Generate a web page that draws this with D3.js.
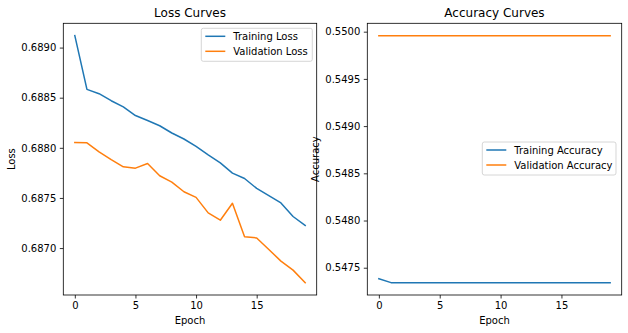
<!DOCTYPE html>
<html>
<head>
<meta charset="utf-8">
<script src="https://cdn.jsdelivr.net/npm/d3@7"></script>
<style>
  html, body { margin: 0; padding: 0; background: #fff; }
  svg { display: block; font-family: "DejaVu Sans", sans-serif; }
</style>
</head>
<body>
<svg id="chart" width="628" height="333"></svg>
<script>
// Training history, one value per epoch
const epochs = d3.range(20);
const trainLoss = [0.689119, 0.688583, 0.688540, 0.688470, 0.688408, 0.688322, 0.688272, 0.688220,
                   0.688148, 0.688088, 0.688015, 0.687930, 0.687850, 0.687748, 0.687694, 0.687595,
                   0.687523, 0.687450, 0.687315, 0.687226];
const valLoss = [0.688053, 0.688050, 0.687960, 0.687882, 0.687810, 0.687797, 0.687843, 0.687721,
                 0.687658, 0.687562, 0.687506, 0.687351, 0.687278, 0.687447, 0.687114, 0.687101,
                 0.686986, 0.686870, 0.686780, 0.686655];
const trainAcc = [0.547384, 0.547342, 0.547342, 0.547342, 0.547342, 0.547342, 0.547342, 0.547342,
                  0.547342, 0.547342, 0.547342, 0.547342, 0.547342, 0.547342, 0.547342, 0.547342,
                  0.547342, 0.547342, 0.547342, 0.547342];
const valAcc = [0.549958, 0.549958, 0.549958, 0.549958, 0.549958, 0.549958, 0.549958, 0.549958,
                0.549958, 0.549958, 0.549958, 0.549958, 0.549958, 0.549958, 0.549958, 0.549958,
                0.549958, 0.549958, 0.549958, 0.549958];

const epochTicks = [0, 5, 10, 15];
const lossTicks = [0.6870, 0.6875, 0.6880, 0.6885, 0.6890];
const accTicks = [0.5475, 0.5480, 0.5485, 0.5490, 0.5495, 0.5500];

const BLUE = "#1f77b4", ORANGE = "#ff7f0e";
const svg = d3.select("#chart");

function padded(arrs) {
  const lo = d3.min(arrs, a => d3.min(a)), hi = d3.max(arrs, a => d3.max(a));
  const m = (hi - lo) * 0.05;
  return [lo - m, hi + m];
}

function panel(opts) {
  const { left, right, top, bottom, title, ylabel, ylabelX, series, yTicks, legend } = opts;
  const x = d3.scaleLinear().domain([-0.95, 19.95]).range([left, right]);
  const y = d3.scaleLinear().domain(padded(series.map(s => s.values))).range([bottom, top]);
  const g = svg.append("g");

  const line = d3.line().x((d, i) => x(epochs[i])).y(d => y(d));
  series.forEach(s => {
    g.append("path").datum(s.values)
      .attr("d", line).attr("fill", "none")
      .attr("stroke", s.color).attr("stroke-width", 1.5)
      .attr("stroke-linecap", "square").attr("stroke-linejoin", "round");
  });

  const xa = g.append("g").attr("transform", `translate(0,${bottom})`)
    .call(d3.axisBottom(x).tickValues(epochTicks).tickSize(3.5).tickPadding(3.5).tickFormat(d3.format("d")));
  const ya = g.append("g").attr("transform", `translate(${left},0)`)
    .call(d3.axisLeft(y).tickValues(yTicks).tickSize(3.5).tickPadding(3.5).tickFormat(d3.format(".4f")));
  [xa, ya].forEach(a => {
    a.select(".domain").remove();
    a.selectAll(".tick line").attr("stroke", "#000").attr("stroke-width", 0.8);
    a.selectAll(".tick text").attr("font-size", 10).attr("fill", "#000")
      .attr("font-family", "DejaVu Sans, sans-serif");
  });

  g.append("rect").attr("x", left).attr("y", top)
    .attr("width", right - left).attr("height", bottom - top)
    .attr("fill", "none").attr("stroke", "#000").attr("stroke-width", 0.8);

  g.append("text").attr("x", (left + right) / 2).attr("y", top - 6)
    .attr("text-anchor", "middle").attr("font-size", 12).text(title);
  g.append("text").attr("x", (left + right) / 2).attr("y", bottom + 29)
    .attr("text-anchor", "middle").attr("font-size", 10).text("Epoch");
  g.append("text").attr("transform", `translate(${ylabelX},${(top + bottom) / 2}) rotate(-90)`)
    .attr("text-anchor", "middle").attr("dominant-baseline", "middle")
    .attr("font-size", 10).text(ylabel);

  // legend
  const lg = g.append("g").attr("transform", `translate(${legend.x},${legend.y})`);
  lg.append("rect").attr("width", legend.w).attr("height", 33).attr("rx", 2)
    .attr("fill", "#fff").attr("fill-opacity", 0.8)
    .attr("stroke", "#cccccc").attr("stroke-width", 0.8);
  series.forEach((s, i) => {
    const cy = 8 + i * 15;
    lg.append("line").attr("x1", 4).attr("x2", 24).attr("y1", cy).attr("y2", cy)
      .attr("stroke", s.color).attr("stroke-width", 1.5);
    lg.append("text").attr("x", 32).attr("y", cy).attr("dominant-baseline", "central")
      .attr("font-size", 10).text(s.name);
  });
}

panel({
  left: 63.3, right: 316.7, top: 23.3, bottom: 295,
  title: "Loss Curves", ylabel: "Loss", ylabelX: 12,
  yTicks: lossTicks,
  series: [
    { name: "Training Loss", values: trainLoss, color: BLUE },
    { name: "Validation Loss", values: valLoss, color: ORANGE }
  ],
  legend: { x: 201.3, y: 28.3, w: 111 }
});

panel({
  left: 367.3, right: 621.7, top: 23.3, bottom: 295,
  title: "Accuracy Curves", ylabel: "Accuracy", ylabelX: 315.5,
  yTicks: accTicks,
  series: [
    { name: "Training Accuracy", values: trainAcc, color: BLUE },
    { name: "Validation Accuracy", values: valAcc, color: ORANGE }
  ],
  legend: { x: 482.3, y: 142, w: 133.7 }
});
</script>
</body>
</html>
